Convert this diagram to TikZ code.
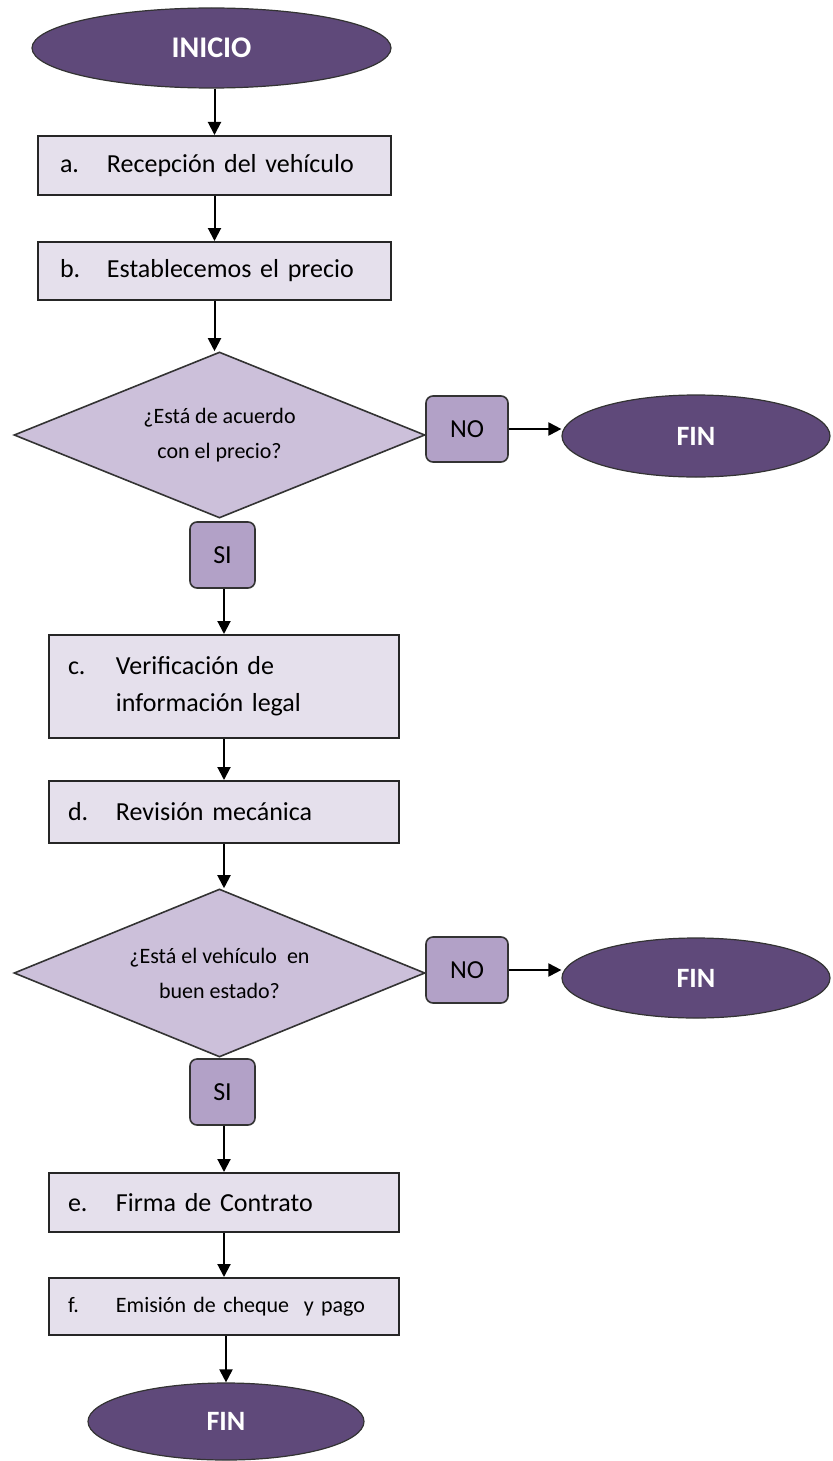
\documentclass[tikz,border=0pt]{standalone}
\usepackage{fontspec}
\setmainfont{Carlito}
\usetikzlibrary{shapes.geometric,arrows.meta}
\definecolor{termfill}{HTML}{5F497A}
\definecolor{boxfill}{HTML}{E5E0EC}
\definecolor{diafill}{HTML}{CCC0DA}
\definecolor{ansfill}{HTML}{B2A1C7}
\begin{document}
\begin{tikzpicture}[x=0.5pt,y=-0.5pt,
  term/.style={ellipse, draw=black!80, line width=0.6pt, fill=termfill, text=white,
    font=\fontsize{14}{16}\selectfont\bfseries, inner sep=0pt},
  procbox/.style={rectangle, draw=black!85, line width=1pt, fill=boxfill, align=left,
    font=\fontsize{13}{18.5}\selectfont, inner ysep=0pt},
  decision/.style={diamond, aspect=2.5, draw=black!80, line width=0.8pt, fill=diafill,
    inner sep=0pt, align=center, font=\fontsize{11}{17.5}\selectfont,
    minimum width=205.5pt},
  answer/.style={rectangle, rounded corners=3.5pt, draw=black!80, line width=0.8pt,
    fill=ansfill, minimum width=41pt, minimum height=33pt, inner sep=0pt,
    font=\fontsize{13}{15}\selectfont},
  flow/.style={line width=1pt, -{Triangle[width=6.5pt,length=6.5pt]}}
]
\useasboundingbox (0,0) rectangle (832,1461);

\node[term, minimum width=179.5pt, minimum height=40pt,
  font=\fontsize{15}{17}\selectfont\bfseries] (inicio) at (211.5,48) {INICIO};

\node[procbox, inner xsep=11pt, text width=154.5pt, minimum height=29.5pt] (a) at (214.5,165.5)
  {\makebox[23.5pt][l]{a.}Recepción del vehículo};
\node[procbox, inner xsep=11pt, text width=154.5pt, minimum height=29pt] (b) at (214.5,271)
  {\makebox[23.5pt][l]{b.}Establecemos el precio};

\node[decision, minimum height=83pt] (d1) at (219.5,435)
  {¿Está de acuerdo\\con el precio?};
\node[answer] (no1) at (467,429) {NO};
\node[term, minimum width=134pt, minimum height=41pt] (fin1) at (696,436) {FIN};
\node[answer, minimum width=32.5pt] (si1) at (222.5,555) {SI};

\node[procbox, inner xsep=9.5pt, text width=156pt, minimum height=51.5pt] (c) at (224,686.5)
  {\makebox[24pt][l]{c.}Verificación de\\\hspace*{24pt}información legal};
\node[procbox, inner xsep=9.5pt, text width=156pt, minimum height=31pt] (d) at (224,812)
  {\makebox[24pt][l]{d.}Revisión mecánica};

\node[decision, minimum height=84pt] (d2) at (219.5,973)
  {¿Está el vehículo\ \ en\\buen estado?};
\node[answer] (no2) at (467,970) {NO};
\node[term, minimum width=134pt, minimum height=40pt] (fin2) at (696,978) {FIN};
\node[answer, minimum width=32.5pt] (si2) at (222.5,1092) {SI};

\node[procbox, inner xsep=9.5pt, text width=156pt, minimum height=29.5pt] (e) at (224,1202.5)
  {\makebox[24pt][l]{e.}Firma de Contrato};
\node[procbox, inner xsep=9.5pt, text width=156pt, minimum height=28.5pt,
  font=\fontsize{11}{13}\selectfont] (f) at (224,1306.5)
  {\makebox[24pt][l]{f.}Emisión de cheque\ \ y pago};

\node[term, minimum width=138pt, minimum height=38.5pt] (fin3) at (226,1421.5) {FIN};

\draw[flow] (inicio.south -| a.north) -- (a.north);
\draw[flow] (a.south) -- (b.north);
\draw[flow] (b.south) -- (b.south |- d1.north);
\draw[flow] (no1.east) -- (no1.east -| fin1.west);
\draw[flow] (si1.south -| c.north) -- (c.north);
\draw[flow] (c.south) -- (d.north);
\draw[flow] (d.south) -- (d.south |- d2.north);
\draw[flow] (no2.east) -- (no2.east -| fin2.west);
\draw[flow] (si2.south -| e.north) -- (e.north);
\draw[flow] (e.south) -- (f.north);
\draw[flow] (f.south -| fin3.north) -- (fin3.north);
\end{tikzpicture}
\end{document}
